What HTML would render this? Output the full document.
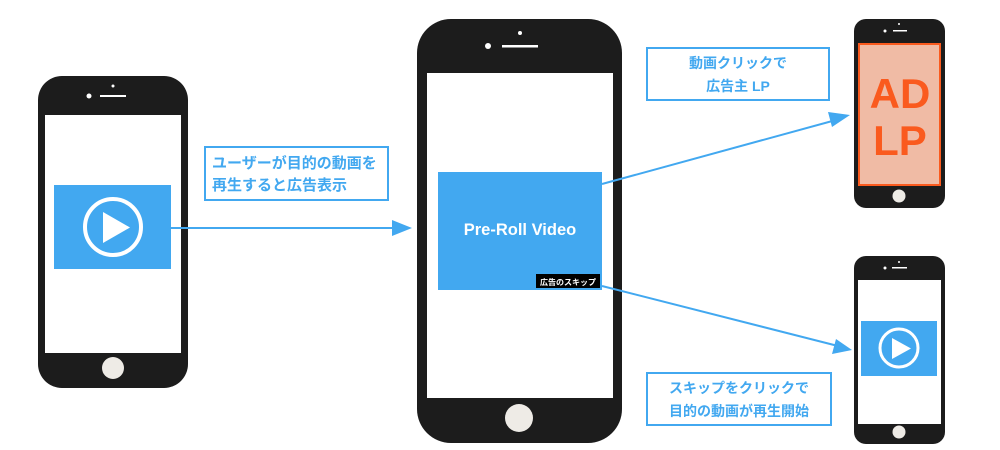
<!DOCTYPE html>
<html><head><meta charset="utf-8"><style>
html,body{margin:0;padding:0;background:#fff;width:1000px;height:450px;overflow:hidden}
svg text{font-family:"Liberation Sans","Noto Sans CJK JP",sans-serif;font-weight:bold}
</style></head><body>
<svg width="1000" height="450" viewBox="0 0 1000 450" xmlns="http://www.w3.org/2000/svg">
<defs>
<marker id="ah" markerWidth="10" markerHeight="8" refX="9" refY="4" orient="auto" markerUnits="userSpaceOnUse" viewBox="0 0 10 8">
</marker>
</defs>
<!-- Phone 1 -->
<rect x="38" y="76" width="150" height="312" rx="24" fill="#1c1c1c"/>
<rect x="45" y="115" width="136" height="238" fill="#fff"/>
<circle cx="113" cy="86" r="1.5" fill="#fff"/>
<circle cx="89" cy="96" r="2.5" fill="#fff"/>
<rect x="100" y="95" width="26" height="2" fill="#fff"/>
<circle cx="113" cy="368" r="11" fill="#eeebe6"/>
<rect x="54" y="185" width="117" height="84" fill="#42a8f0"/>
<circle cx="113" cy="227" r="28" fill="none" stroke="#fff" stroke-width="4"/>
<polygon points="103,212 103,243 130,227.5" fill="#fff"/>

<!-- Box 1 -->
<rect x="205" y="147" width="183" height="53" fill="#fff" stroke="#42a8f0" stroke-width="2"/>
<text x="212" y="168" font-size="15" fill="#42a8f0">ユーザーが目的の動画を</text>
<text x="212" y="190" font-size="15" fill="#42a8f0">再生すると広告表示</text>

<!-- Arrow 1 -->
<line x1="171" y1="228" x2="395" y2="228" stroke="#42a8f0" stroke-width="2"/>
<polygon points="392,220 412,228 392,236" fill="#42a8f0"/>

<!-- Phone 2 -->
<rect x="417" y="19" width="205" height="424" rx="34" fill="#1c1c1c"/>
<rect x="427" y="73" width="186" height="325" fill="#fff"/>
<circle cx="520" cy="33" r="2" fill="#fff"/>
<circle cx="488" cy="46" r="3" fill="#fff"/>
<rect x="502" y="45" width="36" height="2.5" fill="#fff"/>
<circle cx="519" cy="418" r="14" fill="#eeebe6"/>
<rect x="438" y="172" width="164" height="118" fill="#42a8f0"/>
<text x="520" y="235" font-size="16.5" fill="#fff" text-anchor="middle">Pre-Roll Video</text>
<rect x="536" y="274" width="64" height="14" fill="#000"/>
<text x="568" y="285" font-size="8" fill="#fff" text-anchor="middle">広告のスキップ</text>

<!-- Box 2 -->
<rect x="647" y="48" width="182" height="52" fill="#fff" stroke="#42a8f0" stroke-width="2"/>
<text x="738" y="68" font-size="14" fill="#42a8f0" text-anchor="middle">動画クリックで</text>
<text x="738" y="91" font-size="14" fill="#42a8f0" text-anchor="middle">広告主 LP</text>

<!-- Box 3 -->
<rect x="647" y="373" width="184" height="52" fill="#fff" stroke="#42a8f0" stroke-width="2"/>
<text x="739" y="393" font-size="14" fill="#42a8f0" text-anchor="middle">スキップをクリックで</text>
<text x="739" y="416" font-size="14" fill="#42a8f0" text-anchor="middle">目的の動画が再生開始</text>

<!-- Arrows 2,3 -->
<line x1="602" y1="184" x2="836" y2="120" stroke="#42a8f0" stroke-width="2"/>
<polygon points="850,115 832,127 828,112" fill="#42a8f0"/>
<line x1="602" y1="286" x2="838" y2="346" stroke="#42a8f0" stroke-width="2"/>
<polygon points="852,350 832,354 836,339" fill="#42a8f0"/>

<!-- Phone 3 -->
<rect x="854" y="19" width="91" height="189" rx="12" fill="#1c1c1c"/>
<rect x="859" y="44" width="81" height="141" fill="#f0bba5" stroke="#fa5a1e" stroke-width="2"/>
<circle cx="899" cy="24" r="1" fill="#fff"/>
<circle cx="885" cy="31" r="1.5" fill="#fff"/>
<rect x="893" y="30" width="14" height="1.5" fill="#fff"/>
<circle cx="899" cy="196" r="6.5" fill="#eeebe6"/>
<text x="900" y="108" font-size="42" fill="#fa5a1e" text-anchor="middle">AD</text>
<text x="900" y="155" font-size="42" fill="#fa5a1e" text-anchor="middle">LP</text>

<!-- Phone 4 -->
<rect x="854" y="256" width="91" height="188" rx="12" fill="#1c1c1c"/>
<rect x="858" y="280" width="83" height="144" fill="#fff"/>
<circle cx="899" cy="262" r="1" fill="#fff"/>
<circle cx="885" cy="268" r="1.5" fill="#fff"/>
<rect x="892" y="267" width="15" height="1.5" fill="#fff"/>
<circle cx="899" cy="432" r="6.5" fill="#eeebe6"/>
<rect x="861" y="321" width="76" height="55" fill="#42a8f0"/>
<circle cx="899" cy="348" r="19" fill="none" stroke="#fff" stroke-width="3"/>
<polygon points="892,338 892,359 911,348.5" fill="#fff"/>
</svg>
</body></html>
